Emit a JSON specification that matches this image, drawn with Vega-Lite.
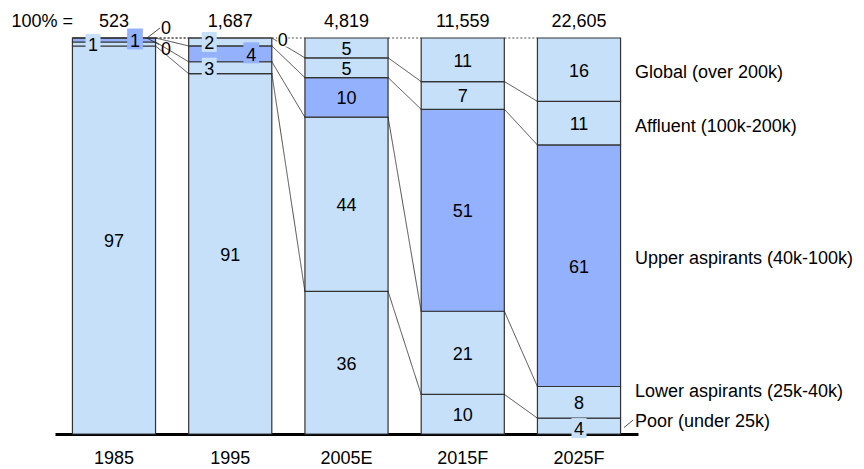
{
  "$schema": "https://vega.github.io/schema/vega-lite/v6.json",
  "width": 864,
  "height": 434,
  "autosize": {"type": "none"},
  "padding": {"left": 0, "top": 0, "right": 0, "bottom": 35},
  "background": "white",
  "config": {
    "view": {"stroke": null},
    "font": "Liberation Sans",
    "text": {"font": "Liberation Sans", "fontSize": 18, "color": "#000000"}
  },
  "datasets": {
    "shares": [
      {"year": "1985", "tier": 1, "segment": "Poor (under 25k)", "value": 97},
      {"year": "1985", "tier": 2, "segment": "Lower aspirants (25k-40k)", "value": 1},
      {"year": "1985", "tier": 3, "segment": "Upper aspirants (40k-100k)", "value": 1},
      {"year": "1985", "tier": 4, "segment": "Affluent (100k-200k)", "value": 0},
      {"year": "1985", "tier": 5, "segment": "Global (over 200k)", "value": 0},
      {"year": "1995", "tier": 1, "segment": "Poor (under 25k)", "value": 91},
      {"year": "1995", "tier": 2, "segment": "Lower aspirants (25k-40k)", "value": 3},
      {"year": "1995", "tier": 3, "segment": "Upper aspirants (40k-100k)", "value": 4},
      {"year": "1995", "tier": 4, "segment": "Affluent (100k-200k)", "value": 2},
      {"year": "1995", "tier": 5, "segment": "Global (over 200k)", "value": 0},
      {"year": "2005E", "tier": 1, "segment": "Poor (under 25k)", "value": 36},
      {"year": "2005E", "tier": 2, "segment": "Lower aspirants (25k-40k)", "value": 44},
      {"year": "2005E", "tier": 3, "segment": "Upper aspirants (40k-100k)", "value": 10},
      {"year": "2005E", "tier": 4, "segment": "Affluent (100k-200k)", "value": 5},
      {"year": "2005E", "tier": 5, "segment": "Global (over 200k)", "value": 5},
      {"year": "2015F", "tier": 1, "segment": "Poor (under 25k)", "value": 10},
      {"year": "2015F", "tier": 2, "segment": "Lower aspirants (25k-40k)", "value": 21},
      {"year": "2015F", "tier": 3, "segment": "Upper aspirants (40k-100k)", "value": 51},
      {"year": "2015F", "tier": 4, "segment": "Affluent (100k-200k)", "value": 7},
      {"year": "2015F", "tier": 5, "segment": "Global (over 200k)", "value": 11},
      {"year": "2025F", "tier": 1, "segment": "Poor (under 25k)", "value": 4},
      {"year": "2025F", "tier": 2, "segment": "Lower aspirants (25k-40k)", "value": 8},
      {"year": "2025F", "tier": 3, "segment": "Upper aspirants (40k-100k)", "value": 61},
      {"year": "2025F", "tier": 4, "segment": "Affluent (100k-200k)", "value": 11},
      {"year": "2025F", "tier": 5, "segment": "Global (over 200k)", "value": 16}
    ],
    "totals": [
      {"year": "1985", "total": 523},
      {"year": "1995", "total": 1687},
      {"year": "2005E", "total": 4819},
      {"year": "2015F", "total": 11559},
      {"year": "2025F", "total": 22605}
    ]
  },
  "layer": [
    {
      "data": {"name": "shares"},
      "transform": [
        {"stack": "value", "groupby": ["year"], "sort": [{"field": "tier"}], "offset": "normalize", "as": ["y0", "y1"]},
        {"window": [{"op": "lead", "field": "year", "as": "nextYear"}, {"op": "lead", "field": "y1", "as": "nextY1"}], "groupby": ["tier"], "sort": [{"field": "year"}]},
        {"calculate": "(datum.y0 + datum.y1) / 2", "as": "mid"}
      ],
      "layer": [
        {
          "mark": {"type": "bar", "stroke": "#333333", "strokeWidth": 1.2},
          "encoding": {
            "x": {
              "field": "year", "type": "nominal", "sort": null, "title": null,
              "scale": {"type": "band", "range": [55, 638], "paddingInner": 0.285, "paddingOuter": 0.15},
              "axis": {"title": null, "domainColor": "#000000", "domainWidth": 3, "ticks": false, "tickSize": 0, "labelPadding": 15, "labelFont": "Liberation Sans", "labelFontSize": 18, "labelColor": "#000000", "labelAngle": 0, "grid": false}
            },
            "y": {"field": "y0", "type": "quantitative", "scale": {"domain": [0, 1], "range": [434, 38]}, "axis": null},
            "y2": {"field": "y1"},
            "color": {
              "field": "segment", "type": "nominal", "legend": null,
              "scale": {
                "domain": ["Poor (under 25k)", "Lower aspirants (25k-40k)", "Upper aspirants (40k-100k)", "Affluent (100k-200k)", "Global (over 200k)"],
                "range": ["#C6E0FA", "#C6E0FA", "#94B1FE", "#C6E0FA", "#C6E0FA"]
              }
            }
          }
        },
        {
          "transform": [{"filter": "datum.nextYear != null"}],
          "mark": {"type": "rule", "xOffset": 41.6, "x2Offset": -41.6, "strokeWidth": 0.8, "color": "#222222"},
          "encoding": {
            "x": {"field": "year", "type": "nominal"},
            "x2": {"field": "nextYear"},
            "y": {"field": "y1", "type": "quantitative"},
            "y2": {"field": "nextY1"},
            "strokeDash": {"condition": {"test": "datum.y1 > 0.999 && datum.nextY1 > 0.999", "value": [2, 2]}, "value": [1, 0]}
          }
        },
        {
          "transform": [{"filter": "datum.year == '1985' && datum.tier == 5"}],
          "mark": {"type": "rule", "xOffset": 33, "x2Offset": 46, "yOffset": 0, "y2Offset": -10, "strokeWidth": 0.8, "color": "#222222"},
          "encoding": {"x": {"field": "year", "type": "nominal"}, "x2": {"field": "year"}, "y": {"field": "y1", "type": "quantitative"}, "y2": {"field": "y1"}}
        },
        {
          "transform": [{"filter": "datum.year == '1985' && datum.tier == 4"}],
          "mark": {"type": "rule", "xOffset": 33, "x2Offset": 45, "yOffset": 0, "y2Offset": 6.5, "strokeWidth": 0.8, "color": "#222222"},
          "encoding": {"x": {"field": "year", "type": "nominal"}, "x2": {"field": "year"}, "y": {"field": "y1", "type": "quantitative"}, "y2": {"field": "y1"}}
        },
        {
          "transform": [{"filter": "datum.year == '2025F' && datum.tier == 1"}],
          "mark": {"type": "rule", "xOffset": 45, "x2Offset": 54, "yOffset": 1.5, "y2Offset": -6, "strokeWidth": 0.8, "color": "#222222"},
          "encoding": {"x": {"field": "year", "type": "nominal"}, "x2": {"field": "year"}, "y": {"field": "mid", "type": "quantitative"}, "y2": {"field": "mid"}}
        },
        {
          "transform": [{"filter": "(datum.year == '1985' && datum.tier == 2) || (datum.year == '1995' && (datum.tier == 2 || datum.tier == 4))"}],
          "mark": {"type": "point", "shape": "M-0.75,-1H0.75V1H-0.75Z", "size": 400, "filled": true, "opacity": 1, "strokeWidth": 0, "xOffset": -21},
          "encoding": {"x": {"field": "year", "type": "nominal"}, "y": {"field": "mid", "type": "quantitative"}, "color": {"field": "segment", "type": "nominal"}}
        },
        {
          "transform": [{"filter": "(datum.year == '1985' || datum.year == '1995') && datum.tier == 3"}],
          "mark": {"type": "point", "shape": "M-0.75,-1H0.75V1H-0.75Z", "size": 440, "filled": true, "opacity": 1, "strokeWidth": 0, "xOffset": 21, "yOffset": -1},
          "encoding": {"x": {"field": "year", "type": "nominal"}, "y": {"field": "mid", "type": "quantitative"}, "color": {"field": "segment", "type": "nominal"}}
        },
        {
          "transform": [{"filter": "datum.year == '2025F' && datum.tier == 1"}],
          "mark": {"type": "point", "shape": "M-0.75,-1H0.75V1H-0.75Z", "size": 400, "filled": true, "opacity": 1, "strokeWidth": 0, "yOffset": 2},
          "encoding": {"x": {"field": "year", "type": "nominal"}, "y": {"field": "mid", "type": "quantitative"}, "color": {"field": "segment", "type": "nominal"}}
        },
        {
          "transform": [{"filter": "datum.year == '1995' && datum.tier == 5"}],
          "mark": {"type": "point", "shape": "M-0.8,-1H0.8V1H-0.8Z", "size": 196, "filled": true, "opacity": 1, "strokeWidth": 0, "fill": "#ffffff", "color": "#ffffff", "xOffset": 52.5, "yOffset": 1.5},
          "encoding": {"x": {"field": "year", "type": "nominal"}, "y": {"field": "mid", "type": "quantitative"}}
        },
        {
          "transform": [{"filter": "datum.value >= 5"}],
          "mark": {"type": "text", "align": "center", "baseline": "middle", "dy": 2},
          "encoding": {"x": {"field": "year", "type": "nominal"}, "y": {"field": "mid", "type": "quantitative"}, "text": {"field": "value", "type": "quantitative"}}
        },
        {
          "transform": [{"filter": "(datum.year == '1985' && datum.tier == 2) || (datum.year == '1995' && (datum.tier == 2 || datum.tier == 4))"}],
          "mark": {"type": "text", "align": "center", "baseline": "middle", "dx": -21, "dy": 2},
          "encoding": {"x": {"field": "year", "type": "nominal"}, "y": {"field": "mid", "type": "quantitative"}, "text": {"field": "value", "type": "quantitative"}}
        },
        {
          "transform": [{"filter": "(datum.year == '1985' || datum.year == '1995') && datum.tier == 3"}],
          "mark": {"type": "text", "align": "center", "baseline": "middle", "dx": 21, "dy": 2},
          "encoding": {"x": {"field": "year", "type": "nominal"}, "y": {"field": "mid", "type": "quantitative"}, "text": {"field": "value", "type": "quantitative"}}
        },
        {
          "transform": [{"filter": "datum.year == '2025F' && datum.tier == 1"}],
          "mark": {"type": "text", "align": "center", "baseline": "middle", "dy": 3.5},
          "encoding": {"x": {"field": "year", "type": "nominal"}, "y": {"field": "mid", "type": "quantitative"}, "text": {"field": "value", "type": "quantitative"}}
        },
        {
          "transform": [{"filter": "datum.year == '1985' && datum.tier == 5"}],
          "mark": {"type": "text", "align": "center", "baseline": "middle", "dx": 52, "dy": -9},
          "encoding": {"x": {"field": "year", "type": "nominal"}, "y": {"field": "y1", "type": "quantitative"}, "text": {"field": "value", "type": "quantitative"}}
        },
        {
          "transform": [{"filter": "datum.year == '1985' && datum.tier == 4"}],
          "mark": {"type": "text", "align": "center", "baseline": "middle", "dx": 52, "dy": 12},
          "encoding": {"x": {"field": "year", "type": "nominal"}, "y": {"field": "y1", "type": "quantitative"}, "text": {"field": "value", "type": "quantitative"}}
        },
        {
          "transform": [{"filter": "datum.year == '1995' && datum.tier == 5"}],
          "mark": {"type": "text", "align": "center", "baseline": "middle", "dx": 52.5, "dy": 3},
          "encoding": {"x": {"field": "year", "type": "nominal"}, "y": {"field": "y1", "type": "quantitative"}, "text": {"field": "value", "type": "quantitative"}}
        },
        {
          "transform": [{"filter": "datum.year == '2025F' && datum.tier >= 4"}],
          "mark": {"type": "text", "align": "left", "baseline": "middle", "dx": 56, "dy": 3.5},
          "encoding": {"x": {"field": "year", "type": "nominal"}, "y": {"field": "mid", "type": "quantitative"}, "text": {"field": "segment"}}
        },
        {
          "transform": [{"filter": "datum.year == '2025F' && datum.tier == 3"}],
          "mark": {"type": "text", "align": "left", "baseline": "middle", "dx": 56, "dy": -6.3},
          "encoding": {"x": {"field": "year", "type": "nominal"}, "y": {"field": "mid", "type": "quantitative"}, "text": {"field": "segment"}}
        },
        {
          "transform": [{"filter": "datum.year == '2025F' && datum.tier == 2"}],
          "mark": {"type": "text", "align": "left", "baseline": "middle", "dx": 56, "dy": -10},
          "encoding": {"x": {"field": "year", "type": "nominal"}, "y": {"field": "mid", "type": "quantitative"}, "text": {"field": "segment"}}
        },
        {
          "transform": [{"filter": "datum.year == '2025F' && datum.tier == 1"}],
          "mark": {"type": "text", "align": "left", "baseline": "middle", "dx": 56, "dy": -4},
          "encoding": {"x": {"field": "year", "type": "nominal"}, "y": {"field": "mid", "type": "quantitative"}, "text": {"field": "segment"}}
        }
      ]
    },
    {
      "data": {"name": "totals"},
      "layer": [
        {
          "mark": {"type": "text", "align": "center", "baseline": "alphabetic", "dy": -11},
          "encoding": {"x": {"field": "year", "type": "nominal"}, "y": {"datum": 1, "type": "quantitative"}, "text": {"field": "total", "type": "quantitative", "format": ","}}
        },
        {
          "transform": [{"filter": "datum.year == '1985'"}],
          "mark": {"type": "text", "align": "right", "baseline": "alphabetic", "dx": -41, "dy": -11, "text": "100% ="},
          "encoding": {"x": {"field": "year", "type": "nominal"}, "y": {"datum": 1, "type": "quantitative"}}
        }
      ]
    }
  ]
}
